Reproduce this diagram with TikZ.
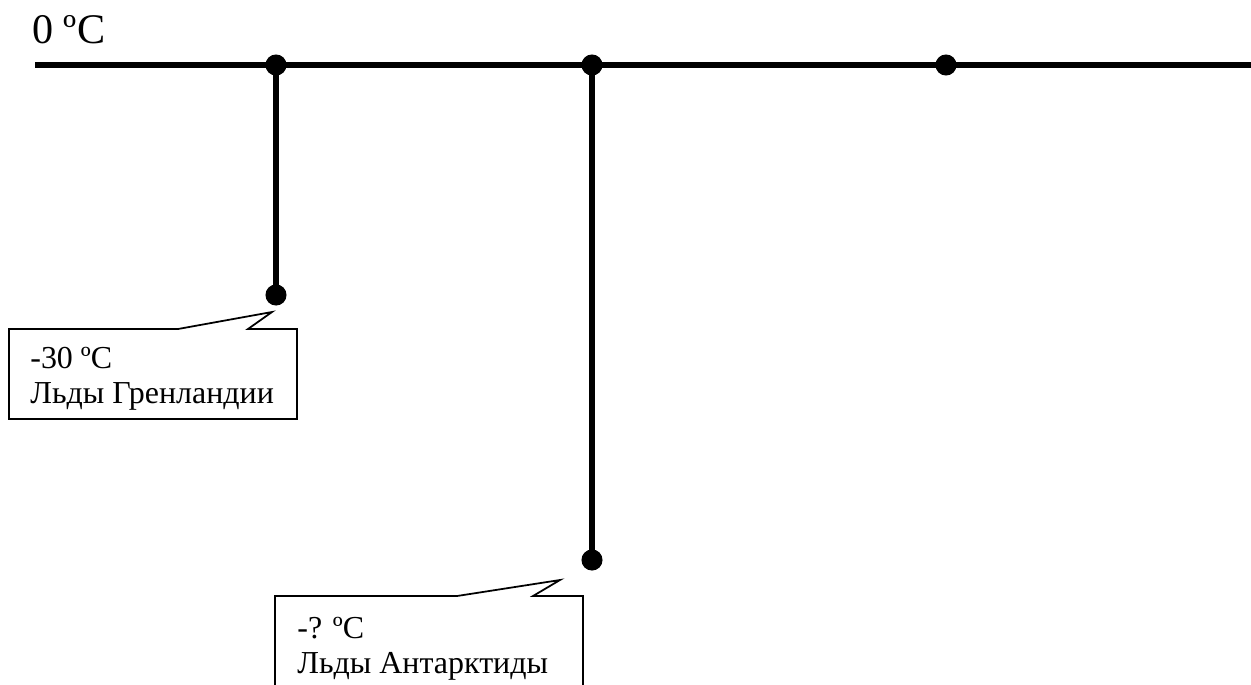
\documentclass[tikz,border=0pt]{standalone}
\usepackage{fontspec}
\setmainfont{Liberation Serif}
\tikzset{
  axis/.style={line width=3.3pt},
  dot/.style={circle,fill,inner sep=0pt,minimum size=12pt},
  callout/.style={line width=1pt,fill=white},
  lbl/.style={inner sep=0pt,anchor=base west,align=left,font=\fontsize{18.2}{19.8}\selectfont}
}
\begin{document}
\begin{tikzpicture}[x=0.02cm,y=-0.02cm]
    \clip (0,0) rectangle (1251,684);
    \fill[white] (0,0) rectangle (1251,684);
    \node[inner sep=0pt,anchor=base west,font=\fontsize{24}{28}\selectfont] (zero) at (32,43) {0 ºC};
    \coordinate (w) at (35,65);
    \coordinate (e) at (1260,65);
    \draw[axis] (w) -- (e);
    \node[dot] (g0) at (276,65) {};
    \node[dot] (a0) at (592,65) {};
    \node[dot] (r) at (946,65) {};
    \node[dot] (g1) at (276,295) {};
    \node[dot] (a1) at (592,560) {};
    \draw[axis] (g0.center) -- (g1.center);
    \draw[axis] (a0.center) -- (a1.center);
    \draw[callout] (9,329) -- (178,329) -- (272,312) -- (248,329) -- (297,329) -- (297,419) -- (9,419) -- cycle;
    \node[lbl] (green) at (30,403) {-30 ºC\\Льды Гренландии};
    \draw[callout] (275,700) -- (275,596) -- (457,596) -- (560,580) -- (533,596) -- (583,596) -- (583,700);
    \node[lbl] (ant) at (297,673) {-? ºC\\Льды Антарктиды};
\end{tikzpicture}
\end{document}
